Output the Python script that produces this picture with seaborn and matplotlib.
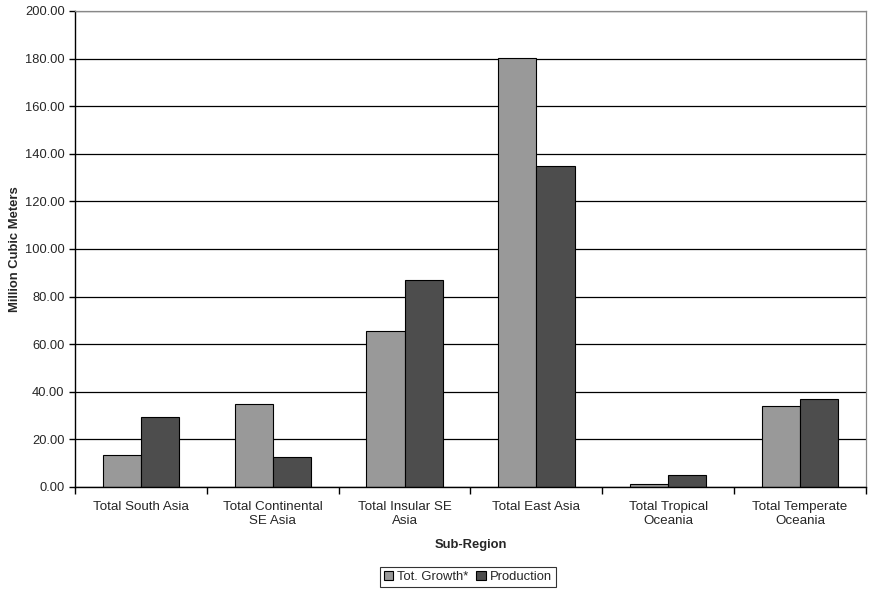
import matplotlib
matplotlib.use("Agg")
import matplotlib.pyplot as plt
import numpy as np
import pandas as pd
import seaborn as sns
from matplotlib.patches import Patch
from matplotlib.ticker import FixedLocator, FormatStrFormatter

# Data
regions = [
    "Total South Asia",
    "Total Continental\nSE Asia",
    "Total Insular SE\nAsia",
    "Total East Asia",
    "Total Tropical\nOceania",
    "Total Temperate\nOceania",
]
growth = [13.4, 34.9, 65.5, 180.3, 1.2, 34.0]
production = [29.4, 12.6, 87.0, 134.9, 5.0, 37.0]
series_names = ["Tot. Growth*", "Production"]
series_colors = ["#999999", "#4d4d4d"]

df = pd.DataFrame({
    "region": regions * 2,
    "series": [series_names[0]] * len(regions) + [series_names[1]] * len(regions),
    "value": growth + production,
})

sns.set_style("white")
plt.rcParams["font.family"] = ["Liberation Sans", "DejaVu Sans"]

fig = plt.figure(figsize=(8.69, 5.90), dpi=100)
ax = fig.add_axes([0.0863, 0.1746, 0.9102, 0.8068])

sns.barplot(
    data=df, x="region", y="value", hue="series",
    palette=series_colors, width=0.58, gap=0, edgecolor="black",
    linewidth=0.8, saturation=1, ax=ax, legend=False,
)

# 1. Axis limits and gridlines
ax.set_ylim(0, 200)
ax.set_xlim(-0.5, len(regions) - 0.5)
ax.set_yticks(np.arange(0, 201, 20))
ax.yaxis.set_major_formatter(FormatStrFormatter("%.2f"))
ax.grid(axis="y", color="black", linewidth=0.9)
ax.set_axisbelow(True)

# 2. Spines
for side in ["top", "right"]:
    ax.spines[side].set_color("#888888")
    ax.spines[side].set_linewidth(0.9)
for side in ["left", "bottom"]:
    ax.spines[side].set_color("black")
    ax.spines[side].set_linewidth(1.0)

# 3. Ticks: labels at centers, marks between categories
ax.tick_params(axis="x", which="major", length=0, labelsize=9.6, pad=10)
ax.xaxis.set_minor_locator(FixedLocator(np.arange(-0.5, len(regions), 1.0)))
ax.tick_params(axis="x", which="minor", length=5, width=1, direction="out", color="black", bottom=True)
ax.tick_params(axis="y", length=4, width=1, direction="out", color="black", labelsize=9.3, left=True)

ax.set_xlabel("Sub-Region", fontsize=9.4, fontweight="bold", labelpad=9)
ax.set_ylabel("Million Cubic Meters", fontsize=9.4, fontweight="bold", labelpad=3)

# 4. Legend at the bottom
handles = [Patch(facecolor=c, edgecolor="black", linewidth=0.8) for c in series_colors]
fig.legend(
    handles, series_names, loc="center", bbox_to_anchor=(468 / 869, 1 - 577 / 590),
    ncol=2, fontsize=9.4, frameon=True, fancybox=False, edgecolor="black",
    handlelength=0.7, handleheight=0.7, handletextpad=0.3, columnspacing=0.6,
    borderpad=0.3, borderaxespad=0,
).get_frame().set_linewidth(0.8)

fig.savefig("out.png", dpi=100, facecolor="white")
plt.close(fig)
